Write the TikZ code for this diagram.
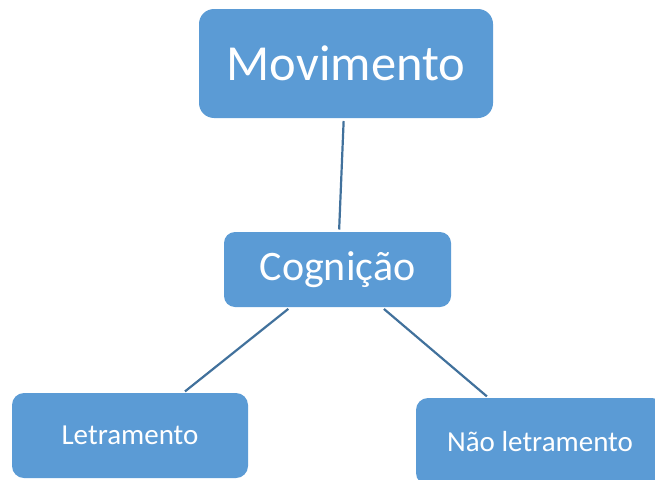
\documentclass[tikz,border=0pt]{standalone}
\usepackage{fontspec}
\setmainfont{Carlito}
\definecolor{boxblue}{HTML}{5B9BD5}
\definecolor{linkblue}{HTML}{41719C}
\begin{document}
\begin{tikzpicture}[x=1pt,y=-1pt,
  box/.style={fill=boxblue, text=white, inner sep=0pt, outer sep=0pt},
  link/.style={draw=linkblue, line width=2.2pt, shorten <=3pt, shorten >=2.5pt}]
\useasboundingbox (0,0) rectangle (655,479);
\node[box, rounded corners=15pt, minimum width=294pt, minimum height=109pt,
  font=\fontsize{50.5}{55}\selectfont] (mov) at (346,63.5) {Movimento};
\node[box, rounded corners=11pt, minimum width=227pt, minimum height=75pt,
  font=\fontsize{42}{46}\selectfont] (cog) at (337.5,269.5) {Cognição};
\node[box, rounded corners=12pt, minimum width=236pt, minimum height=85pt,
  font=\fontsize{29}{32}\selectfont] (let) at (130,435.5) {Letramento};
\node[box, rounded corners=12pt, minimum width=248pt, minimum height=87pt,
  font=\fontsize{29}{32}\selectfont] (nao) at (540,441.5) {Não letramento};
\draw[link] (mov) -- (cog);
\draw[link] (cog) -- (let);
\draw[link] (cog) -- (nao);
\end{tikzpicture}
\end{document}
